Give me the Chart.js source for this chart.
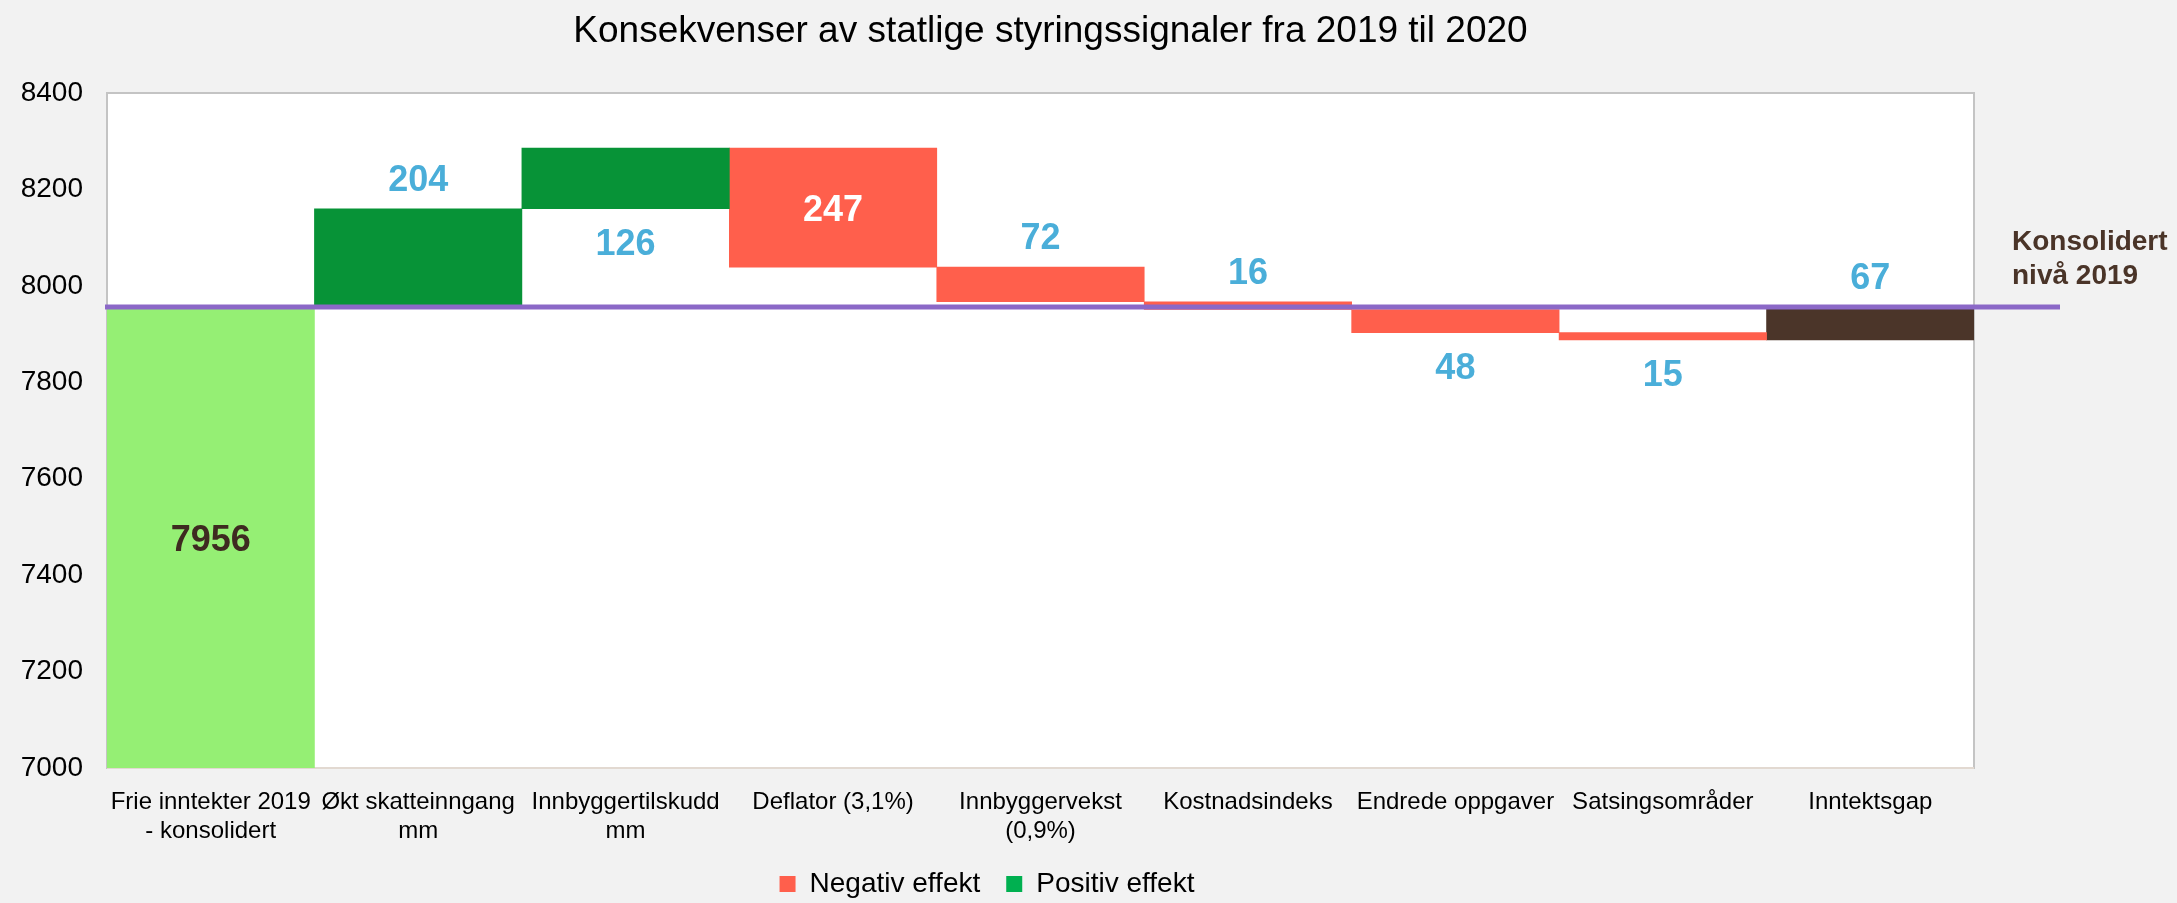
<!DOCTYPE html>
<html>
<head>
<meta charset="utf-8">
<title>Konsekvenser av statlige styringssignaler</title>
<script src="https://cdn.jsdelivr.net/npm/chart.js@4.4.0/dist/chart.umd.min.js"></script>
<style>
  html, body { margin: 0; padding: 0; background: #f2f2f2; }
  #wrap { width: 2177px; height: 903px; position: relative; }
</style>
</head>
<body>
<div id="wrap"><canvas id="waterfallChart"></canvas></div>
<script>
const categories = [
  ['Frie inntekter 2019', '- konsolidert'],
  ['Økt skatteinngang', 'mm'],
  ['Innbyggertilskudd', 'mm'],
  'Deflator (3,1%)',
  ['Innbyggervekst', '(0,9%)'],
  'Kostnadsindeks',
  'Endrede oppgaver',
  'Satsingsområder',
  'Inntektsgap'
];
const startValue = 7956;
const changes = [204, 126, -247, -72, -16, -48, -15];
const gapValue = 67;
const yTicks = [7000, 7200, 7400, 7600, 7800, 8000, 8200, 8400];

const FONT = "'Liberation Sans', Arial, sans-serif";
const COLORS = {
  start: '#95ef74',
  positive: '#079337',
  negative: '#ff5f4c',
  gap: '#4b3529',
  legendPositive: '#00b050',
  line: '#8b68c7',
  label: '#4aaed9',
  dark: '#3e2a20'
};

// label placement per category (style only)
const labelPos = ['inside', 'above', 'below', 'inside', 'above', 'above', 'below', 'below', 'above'];
const labelColor = [COLORS.dark, COLORS.label, COLORS.label, '#ffffff', COLORS.label, COLORS.label, COLORS.label, COLORS.label, COLORS.label];

// build floating bars from the running total
const yMin = yTicks[0];
const startData = categories.map(() => null);
const posData = categories.map(() => null);
const negData = categories.map(() => null);
const gapData = categories.map(() => null);
const labelValues = [];

startData[0] = [yMin, startValue];
labelValues.push(startValue);
let running = startValue;
changes.forEach((c, i) => {
  const next = running + c;
  if (c >= 0) posData[i + 1] = [running, next];
  else negData[i + 1] = [running, next];
  labelValues.push(Math.abs(c));
  running = next;
});
gapData[categories.length - 1] = [running, running + gapValue];
labelValues.push(gapValue);

const framePlugin = {
  id: 'frame',
  beforeDatasetsDraw(chart) {
    const { ctx, chartArea: a } = chart;
    ctx.save();
    ctx.fillStyle = '#ffffff';
    ctx.fillRect(a.left, a.top, a.right - a.left, a.bottom - a.top);
    ctx.strokeStyle = '#c4c4c4';
    ctx.lineWidth = 2;
    ctx.strokeRect(a.left, a.top, a.right - a.left, a.bottom - a.top);
    ctx.strokeStyle = '#e2d9d1';
    ctx.beginPath();
    ctx.moveTo(a.left, a.bottom);
    ctx.lineTo(a.right, a.bottom);
    ctx.stroke();
    ctx.restore();
  }
};

const overlayPlugin = {
  id: 'overlay',
  afterDatasetsDraw(chart) {
    const { ctx, chartArea: a, scales } = chart;
    const yBase = scales.y.getPixelForValue(startValue);
    ctx.save();

    // baseline 2019
    ctx.strokeStyle = COLORS.line;
    ctx.lineWidth = 5;
    ctx.beginPath();
    ctx.moveTo(a.left - 2, yBase);
    ctx.lineTo(a.right + 86, yBase);
    ctx.stroke();

    ctx.fillStyle = '#4a3428';
    ctx.font = 'bold 28px ' + FONT;
    ctx.textAlign = 'left';
    ctx.textBaseline = 'middle';
    ctx.fillText('Konsolidert', a.right + 38, yBase - 65);
    ctx.fillText('nivå 2019', a.right + 38, yBase - 31);

    // value labels
    ctx.font = 'bold 36px ' + FONT;
    ctx.textAlign = 'center';
    categories.forEach((_, i) => {
      let bar = null;
      chart.data.datasets.forEach((ds, di) => {
        if (ds.data[i] !== null) bar = chart.getDatasetMeta(di).data[i];
      });
      if (!bar) return;
      const top = Math.min(bar.y, bar.base);
      const bottom = Math.min(Math.max(bar.y, bar.base), a.bottom);
      let y = (top + bottom) / 2 + 4;
      if (labelPos[i] === 'above') y = top - 28;
      if (labelPos[i] === 'below') y = bottom + 36;
      ctx.fillStyle = labelColor[i];
      ctx.fillText(String(labelValues[i]), bar.x, y);
    });

    // title
    ctx.fillStyle = '#000000';
    ctx.font = '37px ' + FONT;
    ctx.fillText('Konsekvenser av statlige styringssignaler fra 2019 til 2020', (a.left + a.right) / 2 + 10, 32);
    ctx.restore();
  }
};

const barDefaults = { grouped: false, barPercentage: 1, categoryPercentage: 1, borderWidth: 0 };

new Chart(document.getElementById('waterfallChart'), {
  type: 'bar',
  data: {
    labels: categories,
    datasets: [
      { label: 'Frie inntekter', data: startData, backgroundColor: COLORS.start, ...barDefaults },
      { label: 'Positiv effekt', data: posData, backgroundColor: COLORS.positive, ...barDefaults },
      { label: 'Negativ effekt', data: negData, backgroundColor: COLORS.negative, ...barDefaults },
      { label: 'Inntektsgap', data: gapData, backgroundColor: COLORS.gap, ...barDefaults }
    ]
  },
  options: {
    responsive: true,
    maintainAspectRatio: false,
    animation: false,
    layout: { padding: { top: 93, right: 203, left: 0, bottom: -5 } },
    plugins: {
      tooltip: { enabled: false },
      legend: {
        position: 'bottom',
        labels: {
          font: { family: FONT, size: 28 },
          color: '#000000',
          boxWidth: 16,
          boxHeight: 16,
          padding: 26,
          generateLabels: () => [
            { text: 'Negativ effekt', fillStyle: COLORS.negative, strokeStyle: COLORS.negative, lineWidth: 0, hidden: false, datasetIndex: 2 },
            { text: 'Positiv effekt', fillStyle: COLORS.legendPositive, strokeStyle: COLORS.legendPositive, lineWidth: 0, hidden: false, datasetIndex: 1 }
          ]
        }
      }
    },
    scales: {
      x: {
        grid: { display: false, drawTicks: false },
        border: { display: false },
        ticks: {
          font: { family: FONT, size: 24 },
          color: '#000000',
          maxRotation: 0,
          autoSkip: false,
          padding: 20
        },
        afterFit(scale) { scale.height = 76; }
      },
      y: {
        min: yTicks[0],
        max: yTicks[yTicks.length - 1],
        grid: { display: false, drawTicks: false },
        border: { display: false },
        afterBuildTicks(scale) { scale.ticks = yTicks.map(v => ({ value: v })); },
        ticks: {
          font: { family: FONT, size: 28 },
          color: '#000000',
          padding: 24,
          callback: v => String(v)
        },
        afterFit(scale) { scale.width = 107; }
      }
    }
  },
  plugins: [framePlugin, overlayPlugin]
});
</script>
</body>
</html>
